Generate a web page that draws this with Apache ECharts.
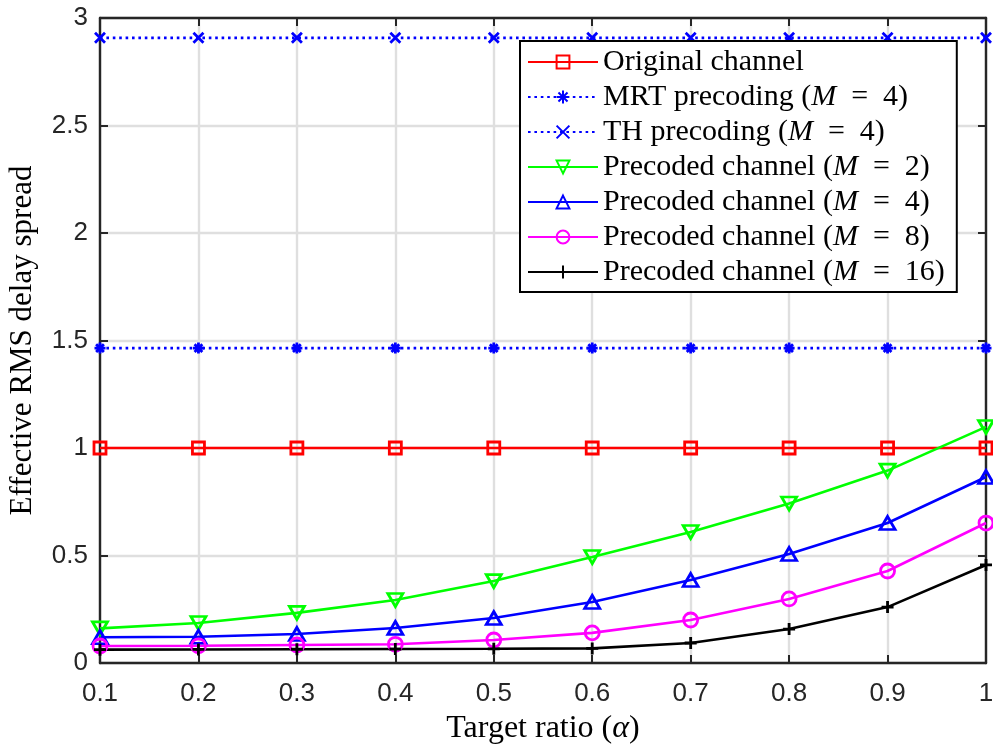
<!DOCTYPE html>
<html>
<head>
<meta charset="utf-8">
<script src="https://cdn.jsdelivr.net/npm/echarts@6/dist/echarts.min.js"></script>
<style>html,body{margin:0;padding:0;background:#fff}#c{width:993px;height:747px}</style>
</head>
<body>
<div id="c"></div>
<script>
const alpha = [0.1, 0.2, 0.3, 0.4, 0.5, 0.6, 0.7, 0.8, 0.9, 1.0];
const original = [1, 1, 1, 1, 1, 1, 1, 1, 1, 1];
const mrt4 = [1.465, 1.465, 1.465, 1.465, 1.465, 1.465, 1.465, 1.465, 1.465, 1.465];
const th4 = [2.908, 2.908, 2.908, 2.908, 2.908, 2.908, 2.908, 2.908, 2.908, 2.908];
const pre2 = [0.161, 0.186, 0.233, 0.293, 0.381, 0.493, 0.609, 0.742, 0.895, 1.098];
const pre4 = [0.120, 0.122, 0.135, 0.163, 0.209, 0.284, 0.386, 0.507, 0.651, 0.865];
const pre8 = [0.079, 0.080, 0.084, 0.087, 0.107, 0.140, 0.200, 0.298, 0.428, 0.651];
const pre16 = [0.062, 0.063, 0.064, 0.065, 0.066, 0.068, 0.093, 0.158, 0.260, 0.456];
const yTicks = [0, 0.5, 1, 1.5, 2, 2.5, 3];

const names = ['Original channel', 'MRT precoding (M = 4)', 'TH precoding (M = 4)',
  'Precoded channel (M = 2)', 'Precoded channel (M = 4)', 'Precoded channel (M = 8)', 'Precoded channel (M = 16)'];

const pair = arr => alpha.map((a, i) => [a, arr[i]]);
const SERIF = 'Liberation Serif';
const SANS = 'Liberation Sans';
const AX = '#262626';

function mk(name, data, color, symbol, size, opts) {
  return Object.assign({
    name, type: 'line', data: pair(data), clip: false,
    symbol, symbolSize: size, showSymbol: true,
    lineStyle: { color, width: 2.6 },
    itemStyle: { color: 'rgba(0,0,0,0)', borderColor: color, borderWidth: 2.8 },
    emphasis: { disabled: true }, animation: false, z: 3
  }, opts || {});
}

const series = [
  mk(names[0], original, '#ff0000', 'rect', 12),
  mk(names[1], mrt4, '#0000ff', 'path://M10,0L10,20M0,10L20,10M2.93,2.93L17.07,17.07M2.93,17.07L17.07,2.93', 11,
     { lineStyle: { color: '#0000ff', width: 2.7, type: [2.6, 3.8] } }),
  mk(names[2], th4, '#0000ff', 'path://M0,0L20,20M0,20L20,0', 10,
     { lineStyle: { color: '#0000ff', width: 2.7, type: [2.6, 3.8] } }),
  mk(names[3], pre2, '#00ff00', 'triangle', [15, 13], { symbolRotate: 180 }),
  mk(names[4], pre4, '#0000ff', 'triangle', [15, 13]),
  mk(names[5], pre8, '#ff00ff', 'circle', 14),
  mk(names[6], pre16, '#000000', 'path://M10,0L10,20M0,10L20,10', 12)
];

function legendFmt(name) {
  const m = name.match(/^(.*)\(M = (\d+)\)$/);
  if (!m) return '{r|' + name + '}';
  return '{r|' + m[1] + '(}{i|M}{r|\u2002=\u2002' + m[2] + ')}';
}

const tickStyle = { show: true, inside: true, length: 8, lineStyle: { color: AX, width: 2 } };
const lineStyle = { show: true, onZero: false, lineStyle: { color: AX, width: 2.4 } };

const option = {
  backgroundColor: '#fff',
  animation: false,
  grid: { left: 100, right: 7, top: 18, bottom: 84, containLabel: false, outerBoundsMode: 'none' },
  legend: {
    data: names,
    orient: 'vertical',
    left: 520, top: 41,
    itemWidth: 70, itemHeight: 16, itemGap: 5, itemTextGap: 7,
    padding: [6, 12, 5, 7],
    backgroundColor: '#fff',
    borderColor: '#000', borderWidth: 2, borderRadius: 0,
    formatter: legendFmt,
    textStyle: {
      color: '#000', fontFamily: SERIF, fontSize: 30, lineHeight: 30,
      rich: {
        r: { fontFamily: SERIF, fontSize: 30, color: '#000', lineHeight: 30 },
        i: { fontFamily: SERIF, fontSize: 30, fontStyle: 'italic', color: '#000', lineHeight: 30 }
      }
    },
    selectedMode: false
  },
  xAxis: [{
    type: 'value', min: 0.1, max: 1, interval: 0.1,
    name: '{r|Target ratio (}{i|α}{r|)}', nameLocation: 'middle', nameGap: 50,
    nameTextStyle: {
      rich: {
        r: { fontFamily: SERIF, fontSize: 32, color: '#000' },
        i: { fontFamily: SERIF, fontSize: 32, fontStyle: 'italic', color: '#000' }
      }
    },
    axisLine: lineStyle, axisTick: tickStyle,
    axisLabel: { fontFamily: SANS, fontSize: 26, color: AX, margin: 18,
      formatter: v => String(Math.round(v * 10) / 10) },
    splitLine: { show: true, lineStyle: { color: '#dfdfdf', width: 2.4 } }
  }, {
    type: 'value', min: 0.1, max: 1, interval: 0.1, position: 'top',
    axisLine: lineStyle, axisTick: tickStyle, axisLabel: { show: false }, splitLine: { show: false }
  }],
  yAxis: [{
    type: 'value', min: 0, max: 3, interval: 0.5,
    name: 'Effective RMS delay spread', nameLocation: 'middle', nameGap: 62, nameRotate: 90,
    nameTextStyle: { fontFamily: SERIF, fontSize: 31, color: '#000' },
    axisLine: lineStyle, axisTick: tickStyle,
    axisLabel: { fontFamily: SANS, fontSize: 26, color: AX, margin: 12,
      formatter: v => String(yTicks.find(t => Math.abs(t - v) < 1e-6) ?? v) },
    splitLine: { show: true, lineStyle: { color: '#dfdfdf', width: 2.4 } }
  }, {
    type: 'value', min: 0, max: 3, interval: 0.5, position: 'right',
    axisLine: lineStyle, axisTick: tickStyle, axisLabel: { show: false }, splitLine: { show: false }
  }],
  series: series
};

const chart = echarts.init(document.getElementById('c'), null, { renderer: 'canvas' });
chart.setOption(option);
</script>
</body>
</html>
